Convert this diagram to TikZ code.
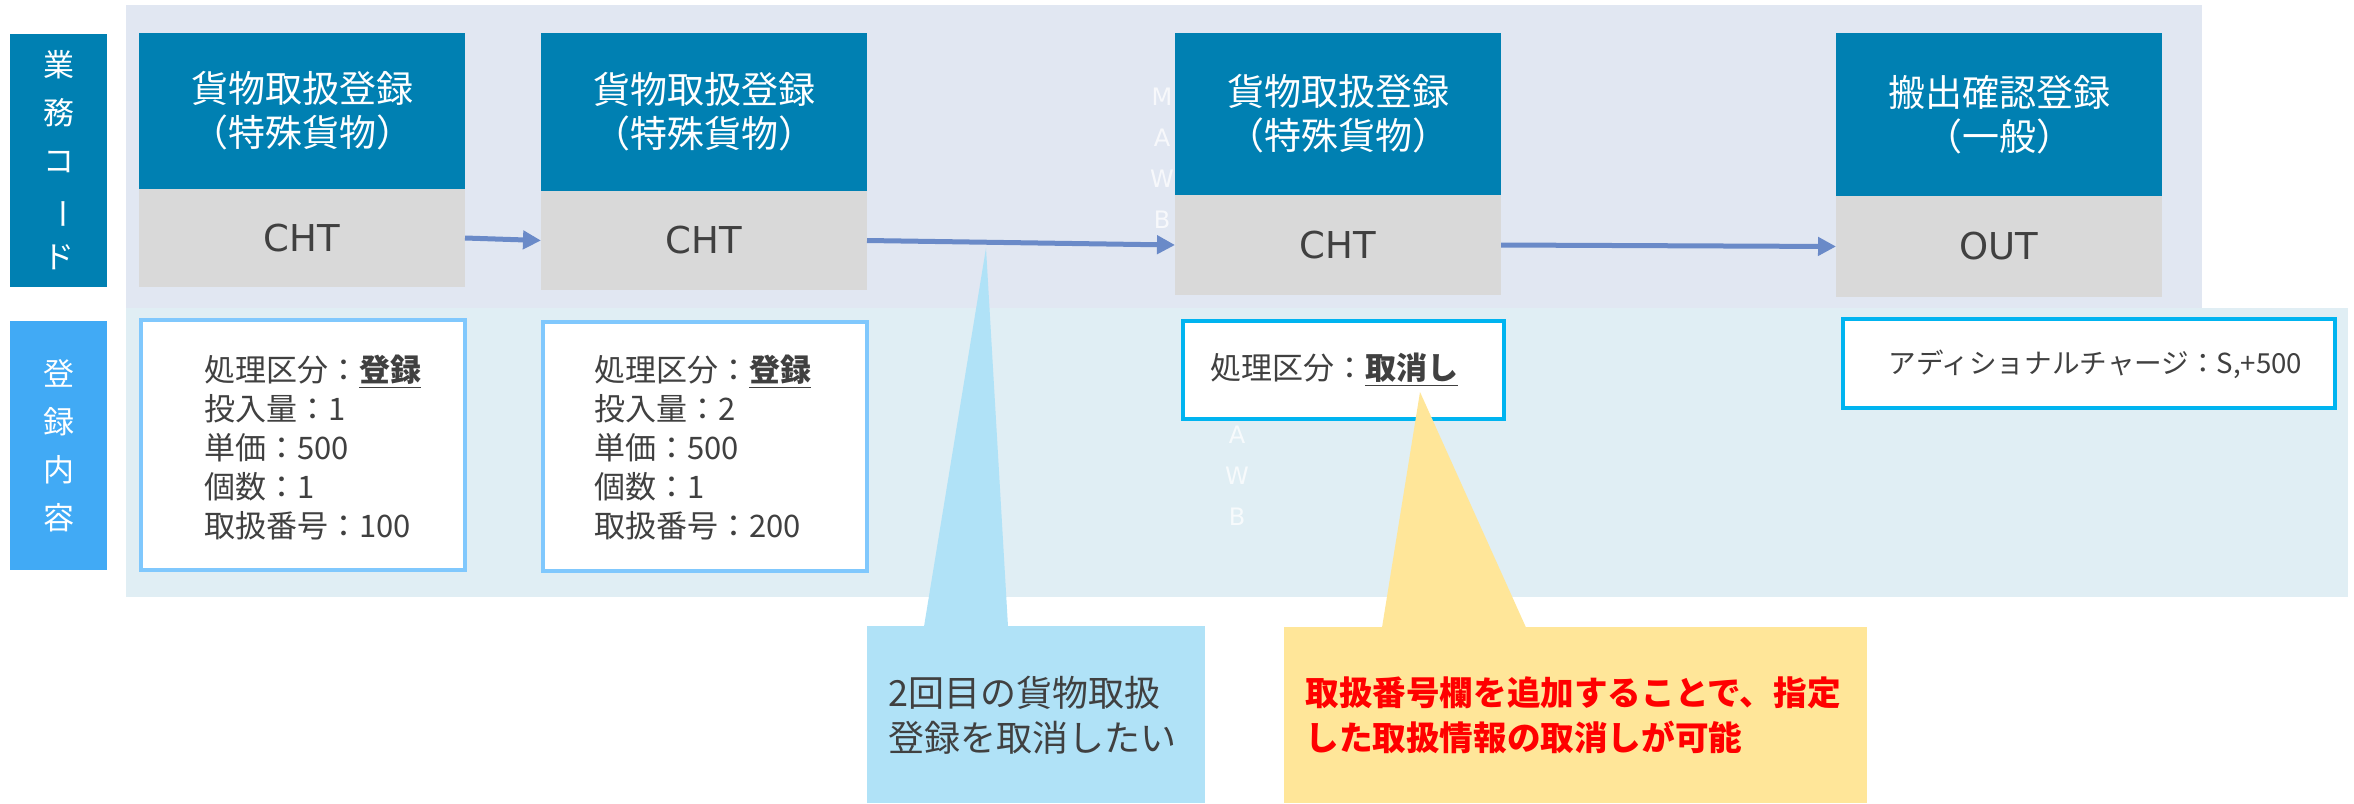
\documentclass[tikz,border=0pt]{standalone}
\usepackage{fontspec}
\usepackage{graphicx}
\setmainfont{Noto Sans CJK JP}
\newfontfamily\latinfont{DejaVu Sans}
\usetikzlibrary{arrows.meta}
\definecolor{hdblue}{HTML}{0080B2}
\definecolor{lblblue}{HTML}{41AAF5}
\definecolor{topband}{HTML}{E1E7F2}
\definecolor{botband}{HTML}{E0EEF4}
\definecolor{cellgray}{HTML}{D9D9D9}
\definecolor{txtdark}{HTML}{404040}
\definecolor{lightborder}{HTML}{80C8FD}
\definecolor{cyanborder}{HTML}{00B4F0}
\definecolor{calloutblue}{HTML}{B0E2F7}
\definecolor{calloutyellow}{HTML}{FFE699}
\definecolor{arrowblue}{HTML}{6A8AC8}
\tikzset{
  px/.style={x=0.5pt,y=-0.5pt},
  blk/.style={rectangle, inner sep=0pt, outer sep=0pt, minimum width=163pt},
  titlebox/.style={blk, fill=hdblue, text=white, align=center,
    font=\fontsize{18.5pt}{22pt}\selectfont},
  codebox/.style={blk, fill=cellgray, text=txtdark,
    font=\latinfont\fontsize{18.5pt}{22pt}\selectfont},
  sidebox/.style={rectangle, inner sep=0pt, outer sep=0pt, minimum width=48.5pt,
    text=white, align=center, font=\fontsize{15.5pt}{22pt}\selectfont},
  entrybox/.style={rectangle, draw, line width=2pt, fill=white, inner sep=0pt, outer sep=0pt},
  entrytext/.style={anchor=west, inner sep=0pt, text=txtdark, align=left,
    font=\fontsize{15.5pt}{19.5pt}\selectfont},
  flow/.style={draw=arrowblue, line width=2.5pt, -{Triangle[length=9pt,width=9pt]}},
  ghost/.style={text=white, opacity=0.75, align=center, inner sep=0pt,
    font=\latinfont\fontsize{12pt}{20.5pt}\selectfont},
  callouttext/.style={anchor=west, inner sep=0pt, align=left,
    font=\fontsize{18pt}{22.5pt}\selectfont}
}
\newcommand{\ulbold}[1]{\underline{\textbf{#1}}}
\begin{document}
\begin{tikzpicture}[px]
\useasboundingbox (0,0) rectangle (2354,803);
% bands
\fill[topband] (126,5) rectangle (2202,308);
\fill[botband] (126,308) rectangle (2348,597);
% faint labels
\node[ghost] (mawbA) at (1162,158) {M\\A\\W\\B};
\node[ghost] (mawbB) at (1237,455) {M\\A\\W\\B};
% side labels
\node[sidebox, fill=hdblue, minimum height=126.5pt] (side1) at (58.5,160) {業\\[2pt]務\\[2pt]コ\\[2pt]\rotatebox[origin=c]{-90}{ー}\\[2pt]ド};
\node[sidebox, fill=lblblue, minimum height=124.5pt] (side2) at (58.5,445.5) {登\\[2pt]録\\[2pt]内\\[2pt]容};
% header blocks
\node[titlebox, minimum height=78pt] (h1) at (302,111) {貨物取扱登録\\（特殊貨物）};
\node[codebox, minimum height=49pt] (g1) at (302,238) {CHT};
\node[titlebox, minimum height=79pt] (h2) at (704,112) {貨物取扱登録\\（特殊貨物）};
\node[codebox, minimum height=49.5pt] (g2) at (704,240.5) {CHT};
\node[titlebox, minimum height=81pt] (h3) at (1338,114) {貨物取扱登録\\（特殊貨物）};
\node[codebox, minimum height=50pt] (g3) at (1338,245) {CHT};
\node[titlebox, minimum height=81.5pt] (h4) at (1999,114.5) {搬出確認登録\\（一般）};
\node[codebox, minimum height=50.5pt] (g4) at (1999,246.5) {OUT};
% arrows
\draw[flow] (g1.east) -- (g2.west);
\draw[flow] (g2.east) -- (g3.west);
\draw[flow] (g3.east) -- (g4.west);
% entry boxes
\node[entrybox, draw=lightborder, minimum width=162pt, minimum height=125pt] (c1) at (303,445) {};
\node[entrytext] (t1) at (204,448) {処理区分：\ulbold{登録}\\投入量：1\\単価：500\\個数：1\\取扱番号：100};
\node[entrybox, draw=lightborder, minimum width=162pt, minimum height=124.5pt] (c2) at (705,446.5) {};
\node[entrytext] (t2) at (594,448) {処理区分：\ulbold{登録}\\投入量：2\\単価：500\\個数：1\\取扱番号：200};
\node[entrybox, draw=cyanborder, minimum width=160.5pt, minimum height=49pt] (c3) at (1343.5,370) {};
\node[entrytext] (t3) at (1210,370) {処理区分：\ulbold{取消し}};
\node[entrybox, draw=cyanborder, minimum width=246pt, minimum height=44.5pt] (c4) at (2089,363.5) {};
\node[entrytext, font=\fontsize{13.8pt}{18pt}\selectfont] (t4) at (1888,364) {アディショナルチャージ：S,+500};
% callouts
\coordinate (tipA) at (986,248);
\coordinate (tipB) at (1420,392);
\node[rectangle, fill=calloutblue, inner sep=0pt, minimum width=169pt, minimum height=88.5pt] (cb) at (1036,714.5) {};
\fill[calloutblue] (924,626.5) -- (tipA) -- (1008,626.5) -- cycle;
\node[callouttext, text=txtdark] (cbt) at (888,715) {2回目の貨物取扱\\登録を取消したい};
\node[rectangle, fill=calloutyellow, inner sep=0pt, minimum width=291.5pt, minimum height=88pt] (cy) at (1575.5,715) {};
\fill[calloutyellow] (1382,627.5) -- (tipB) -- (1526,627.5) -- cycle;
\node[callouttext, text=red, font=\bfseries\fontsize{16.8pt}{22.5pt}\selectfont] (cyt) at (1305,715) {取扱番号欄を追加することで、指定\\した取扱情報の取消しが可能};
\end{tikzpicture}
\end{document}
